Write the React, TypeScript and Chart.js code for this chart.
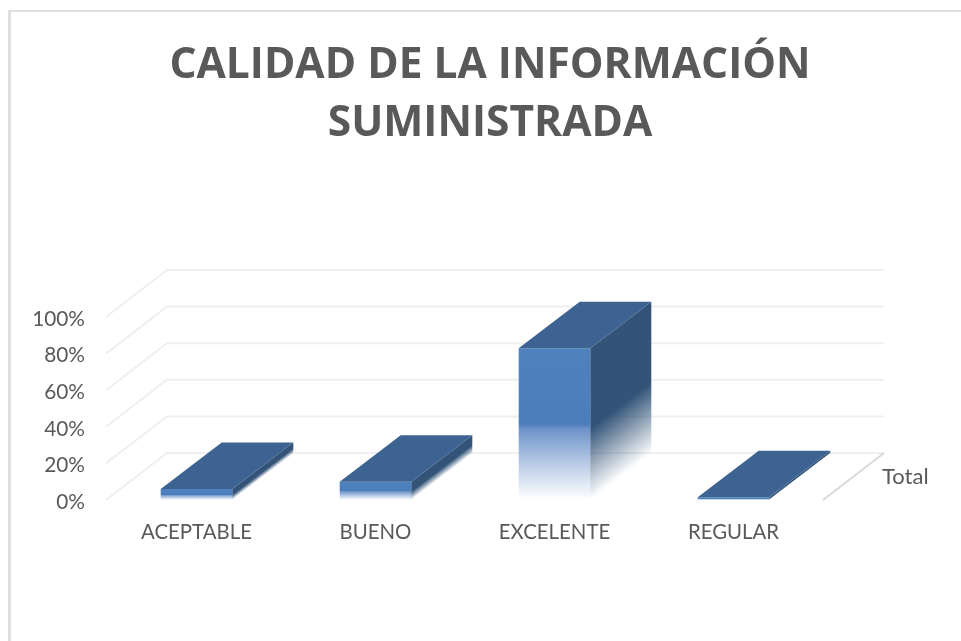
import React, { useEffect, useRef } from "react";
import { Chart, registerables } from "chart.js";

Chart.register(...registerables);

const categories = ["ACEPTABLE", "BUENO", "EXCELENTE", "REGULAR"];
const totals = [0.06, 0.1, 0.83, 0.015];
const titleLines = ["CALIDAD DE LA INFORMACIÓN", "SUMINISTRADA"];
const seriesName = "Total";

const DEPTH_X = 61;
const DEPTH_Y = -47;
const BAR_DEPTH_Y = -46.5;
const FRONT = "#4f81bd";
const TOP = "#3c6391";
const SIDE = "#335478";
const GRID = "#efefef";
const FLOOR = "#d9d9d9";
const TEXT = "#595959";
const LABEL_FONT = "Lato";
const TITLE_FONT = "'Open Sans'";

function frontFill(context: any) {
  const chart = context.chart;
  if (!chart.chartArea || context.parsed == null) return FRONT;
  const yScale = chart.scales.y;
  const top = yScale.getPixelForValue(context.parsed.y);
  const bottom = yScale.getPixelForValue(0);
  if (!(bottom > top)) return FRONT;
  const g = chart.ctx.createLinearGradient(0, top, 0, bottom);
  g.addColorStop(0, FRONT);
  g.addColorStop(0.5, "#4a7ebb");
  g.addColorStop(0.53, "rgba(108,146,200,1)");
  g.addColorStop(1, "rgba(255,255,255,0.9)");
  return g;
}

const depthPlugin = {
  id: "depth",
  beforeDatasetsDraw(chart: any) {
    const { ctx, chartArea, scales } = chart;
    const yScale = scales.y;
    ctx.save();
    ctx.lineWidth = 2;
    ctx.strokeStyle = GRID;
    yScale.ticks.forEach((t: any) => {
      const y = yScale.getPixelForValue(t.value);
      ctx.beginPath();
      ctx.moveTo(chartArea.left - 1, y);
      ctx.lineTo(chartArea.left - 1 + DEPTH_X, y + DEPTH_Y);
      ctx.lineTo(chartArea.right + DEPTH_X, y + DEPTH_Y);
      ctx.stroke();
    });
    const base = yScale.getPixelForValue(0);
    ctx.strokeStyle = FLOOR;
    ctx.beginPath();
    ctx.moveTo(chartArea.right, base);
    ctx.lineTo(chartArea.right + DEPTH_X, base + DEPTH_Y);
    ctx.stroke();
    ctx.fillStyle = TEXT;
    ctx.font = `22px ${LABEL_FONT}`;
    ctx.textAlign = "left";
    ctx.textBaseline = "middle";
    ctx.fillText(seriesName, chartArea.right + 59, base - 23);
    ctx.restore();
  },
  afterDatasetsDraw(chart: any) {
    const { ctx, scales } = chart;
    const base = scales.y.getPixelForValue(0);
    ctx.save();
    chart.getDatasetMeta(0).data.forEach((bar: any) => {
      const x0 = bar.x - bar.width / 2;
      const x1 = bar.x + bar.width / 2;
      const top = bar.y;

      const h = base - top;
      const fadeStart = top + h * 0.53;
      const len = Math.hypot(DEPTH_X, BAR_DEPTH_Y);
      const nx = -BAR_DEPTH_Y / len;
      const ny = DEPTH_X / len;
      const d = (base - fadeStart) * ny;
      const g = ctx.createLinearGradient(x1, fadeStart, x1 + nx * d, fadeStart + ny * d);
      g.addColorStop(0, SIDE);
      g.addColorStop(1, "rgba(51,84,120,0)");
      ctx.fillStyle = g;
      ctx.beginPath();
      ctx.moveTo(x1, top);
      ctx.lineTo(x1 + DEPTH_X, top + BAR_DEPTH_Y);
      ctx.lineTo(x1 + DEPTH_X, base + BAR_DEPTH_Y);
      ctx.lineTo(x1, base);
      ctx.closePath();
      ctx.fill();

      ctx.fillStyle = TOP;
      ctx.beginPath();
      ctx.moveTo(x0, top);
      ctx.lineTo(x1, top);
      ctx.lineTo(x1 + DEPTH_X, top + BAR_DEPTH_Y);
      ctx.lineTo(x0 + DEPTH_X, top + BAR_DEPTH_Y);
      ctx.closePath();
      ctx.fill();
    });
    ctx.restore();
  },
};

export default function App() {
  const ref = useRef<HTMLCanvasElement>(null);
  useEffect(() => {
    const chart = new Chart(ref.current!, {
      type: "bar",
      data: {
        labels: categories,
        datasets: [
          {
            label: seriesName,
            data: totals,
            backgroundColor: frontFill,
            borderWidth: 0,
            categoryPercentage: 0.4,
            barPercentage: 1,
            yAxisID: "y",
          },
        ],
      },
      plugins: [depthPlugin],
      options: {
        responsive: false,
        animation: false,
        layout: { padding: 0 },
        plugins: {
          legend: { display: false },
          tooltip: { enabled: false },
          title: {
            display: true,
            text: titleLines,
            color: TEXT,
            font: { family: TITLE_FONT, size: 42.5, weight: "bold", lineHeight: 1.365 },
            padding: { top: 27, bottom: 164 },
          },
        },
        scales: {
          x: {
            grid: { display: false, drawTicks: false },
            border: { display: false },
            ticks: { color: TEXT, font: { family: LABEL_FONT, size: 20.4 }, padding: 20, maxRotation: 0 },
            afterFit: (s: any) => {
              s.height = 141;
            },
          },
          y: {
            min: 0,
            max: 1,
            grid: { display: false, drawTicks: false },
            border: { display: false },
            ticks: {
              stepSize: 0.2,
              color: TEXT,
              font: { family: LABEL_FONT, size: 20.8 },
              padding: 22,
              callback: (v: any) => `${Math.round(Number(v) * 100)}%`,
            },
            afterFit: (s: any) => {
              s.width = 97;
            },
            afterUpdate: (s: any) => {
              if (s.__shifted) return;
              s.__shifted = true;
              const draw = s.drawLabels.bind(s);
              s.drawLabels = (area: any) => {
                s.ctx.save();
                s.ctx.translate(0, 2);
                draw(area);
                s.ctx.restore();
              };
            },
          },
          rightSpace: {
            type: "linear",
            position: "right",
            grid: { display: false, drawTicks: false },
            border: { display: false },
            ticks: { display: false },
            afterFit: (s: any) => {
              s.width = 147;
            },
          },
        },
      },
    } as any);
    return () => chart.destroy();
  }, []);
  return (
    <div style={{ position: "fixed", inset: 0, overflow: "hidden", background: "#fff" }}>
      <div
        style={{
          position: "absolute",
          left: 8,
          top: 10,
          width: 1000,
          height: 1000,
          borderStyle: "solid",
          borderColor: "#e0e0e0",
          borderWidth: "2px 2px 2px 3px",
          boxSizing: "border-box",
        }}
      />
      <canvas
        ref={ref}
        width={960}
        height={631}
        style={{ position: "absolute", left: 10, top: 10, width: 960, height: 631 }}
      />
    </div>
  );
}
